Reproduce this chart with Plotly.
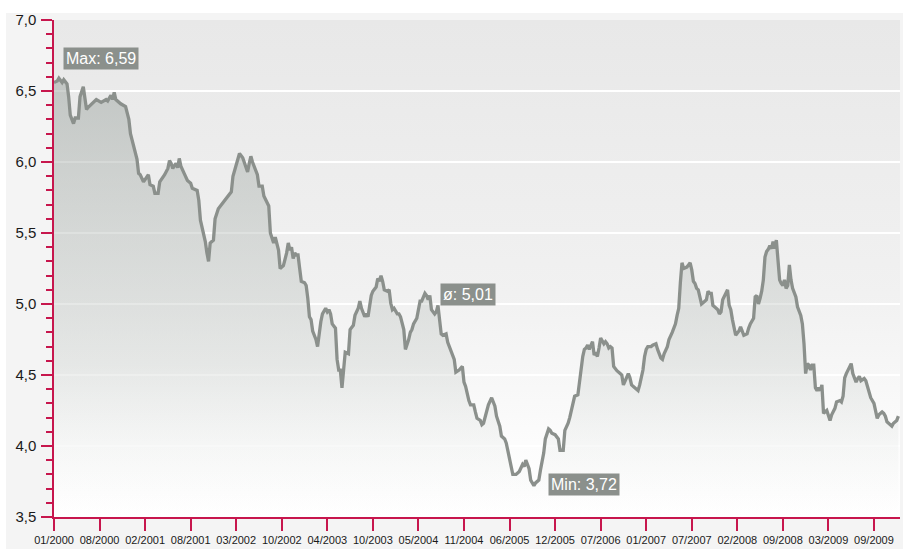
import base64
import plotly.graph_objects as go

# ---------------- data ----------------
tick_labels = ["01/2000", "08/2000", "02/2001", "08/2001", "03/2002", "10/2002",
               "04/2003", "10/2003", "05/2004", "11/2004", "06/2005", "12/2005",
               "07/2006", "01/2007", "07/2007", "02/2008", "09/2008", "03/2009",
               "09/2009"]
tick_step = 28  # observations between labelled ticks

week = [
    0, 2, 3, 5, 6, 8, 9, 10, 12, 13,
    15, 16, 18, 19, 20, 21, 23, 26, 29, 32,
    33, 35, 36, 37, 38, 41, 44, 46, 47, 50,
    51, 52, 53, 55, 57, 58, 59, 61, 62, 64,
    65, 68, 70, 71, 72, 73, 75, 76, 77, 78,
    80, 82, 84, 85, 88, 89, 90, 91, 92, 93,
    94, 95, 96, 98, 99, 101, 103, 105, 108, 109,
    110, 112, 113, 114, 116, 117, 119, 120, 121, 122,
    123, 125, 126, 128, 129, 131, 132, 133, 134, 135,
    136, 137, 138, 139, 140, 141, 143, 144, 145, 146,
    147, 148, 149, 150, 151, 152, 154, 155, 156, 157,
    158, 159, 161, 162, 164, 165, 167, 168, 169, 170,
    171, 173, 174, 175, 176, 177, 178, 179, 181, 182,
    184, 185, 187, 188, 189, 191, 192, 193, 195, 196,
    198, 199, 200, 201, 202, 203, 205, 206, 207, 208,
    209, 211, 212, 213, 215, 216, 218, 219, 220, 221,
    223, 224, 225, 226, 228, 229, 230, 231, 232, 234,
    235, 236, 237, 238, 239, 241, 242, 243, 245, 246,
    247, 249, 251, 252, 253, 254, 255, 256, 258, 259,
    260, 262, 263, 264, 265, 266, 267, 269, 271, 272,
    274, 275, 277, 278, 280, 281, 282, 284, 285, 286,
    288, 289, 290, 292, 293, 295, 296, 298, 299, 301,
    302, 304, 305, 306, 308, 310, 311, 313, 314, 316,
    317, 319, 320, 322, 323, 324, 325, 326, 327, 328,
    329, 331, 332, 333, 334, 335, 336, 338, 339, 340,
    341, 342, 343, 344, 346, 348, 349, 350, 351, 352,
    353, 354, 355, 357, 359, 360, 362, 363, 364, 365,
    367, 368, 370, 371, 373, 374, 375, 377, 378, 380,
    382, 383, 384, 385, 386, 387, 389, 390, 391, 392,
    393, 394, 395, 396, 397, 398, 400, 401, 402, 403,
    404, 405, 406, 408, 409, 410, 411, 412, 414, 415,
    416, 417, 418, 419, 421, 422, 424, 426, 427, 428,
    430, 431, 432, 433, 434, 435, 436, 437, 438, 439,
    440, 441, 442, 443, 444, 445, 446, 447, 448, 449,
    450, 451, 452, 453, 454, 456, 457, 459, 460, 461,
    462, 463, 464, 465, 466, 467, 468, 469, 470, 471,
    472, 473, 474, 475, 477, 478, 480, 481, 483, 484,
    485, 486, 487, 489, 490, 491, 493, 494, 495, 496,
    498, 499, 501, 502, 504, 505, 506, 507, 509, 510,
    511, 512, 513, 515, 516, 518, 519,
]

yield_pct = [
    6.56, 6.57, 6.59, 6.56, 6.58, 6.55, 6.46, 6.33, 6.27, 6.31,
    6.31, 6.46, 6.53, 6.46, 6.37, 6.385, 6.41, 6.44, 6.42, 6.44,
    6.43, 6.47, 6.44, 6.49, 6.44, 6.41, 6.39, 6.30, 6.20, 6.08,
    6.02, 5.92, 5.91, 5.86, 5.90, 5.91, 5.84, 5.83, 5.78, 5.78,
    5.86, 5.91, 5.955, 6.01, 5.99, 5.955, 5.99, 5.96, 6.025, 5.97,
    5.92, 5.87, 5.85, 5.815, 5.80, 5.73, 5.59, 5.54, 5.47, 5.44,
    5.36, 5.30, 5.43, 5.45, 5.60, 5.67, 5.70, 5.73, 5.78, 5.79,
    5.90, 5.98, 6.03, 6.06, 6.03, 5.99, 5.93, 5.99, 6.04, 6.00,
    5.97, 5.91, 5.83, 5.83, 5.76, 5.72, 5.69, 5.50, 5.47, 5.43,
    5.47, 5.43, 5.38, 5.25, 5.26, 5.27, 5.36, 5.43, 5.38, 5.40,
    5.32, 5.36, 5.345, 5.345, 5.25, 5.16, 5.15, 5.13, 5.04, 4.91,
    4.89, 4.81, 4.75, 4.70, 4.875, 4.93, 4.97, 4.945, 4.96, 4.93,
    4.86, 4.83, 4.61, 4.535, 4.535, 4.41, 4.535, 4.66, 4.65, 4.82,
    4.85, 4.92, 4.97, 5.02, 4.97, 4.91, 4.93, 4.91, 5.06, 5.09,
    5.12, 5.18, 5.16, 5.20, 5.16, 5.10, 5.09, 5.10, 5.005, 4.96,
    4.97, 4.93, 4.93, 4.91, 4.82, 4.68, 4.75, 4.80, 4.82, 4.86,
    4.90, 4.96, 5.02, 5.02, 5.075, 5.06, 5.03, 5.06, 4.96, 4.93,
    4.945, 4.99, 4.91, 4.79, 4.78, 4.79, 4.73, 4.70, 4.65, 4.61,
    4.52, 4.535, 4.56, 4.45, 4.42, 4.36, 4.32, 4.29, 4.29, 4.24,
    4.195, 4.18, 4.15, 4.16, 4.21, 4.265, 4.29, 4.34, 4.28, 4.21,
    4.14, 4.07, 4.05, 4.02, 3.925, 3.855, 3.80, 3.80, 3.81, 3.82,
    3.87, 3.855, 3.90, 3.84, 3.76, 3.72, 3.74, 3.76, 3.83, 3.95,
    4.05, 4.12, 4.11, 4.09, 4.08, 4.05, 3.97, 3.97, 4.11, 4.16,
    4.20, 4.29, 4.35, 4.36, 4.46, 4.51, 4.63, 4.68, 4.69, 4.71,
    4.68, 4.735, 4.64, 4.66, 4.63, 4.69, 4.76, 4.72, 4.735, 4.72,
    4.69, 4.70, 4.69, 4.56, 4.53, 4.51, 4.50, 4.43, 4.46, 4.49,
    4.51, 4.48, 4.43, 4.41, 4.39, 4.43, 4.535, 4.63, 4.68, 4.70,
    4.70, 4.71, 4.72, 4.68, 4.62, 4.61, 4.65, 4.70, 4.75, 4.80,
    4.86, 4.92, 4.97, 5.15, 5.29, 5.25, 5.26, 5.275, 5.29, 5.24,
    5.16, 5.145, 5.11, 5.10, 5.06, 5.00, 5.02, 5.03, 5.09, 5.075,
    5.075, 4.99, 4.98, 4.96, 4.93, 4.945, 5.03, 5.05, 5.10, 4.99,
    4.96, 4.89, 4.83, 4.78, 4.81, 4.84, 4.78, 4.79, 4.83, 4.86,
    4.90, 5.05, 5.06, 5.00, 5.04, 5.09, 5.17, 5.33, 5.37, 5.385,
    5.41, 5.39, 5.44, 5.39, 5.45, 5.31, 5.17, 5.145, 5.13, 5.17,
    5.11, 5.13, 5.275, 5.17, 5.11, 5.05, 4.98, 4.92, 4.86, 4.72,
    4.51, 4.58, 4.57, 4.535, 4.57, 4.57, 4.41, 4.39, 4.41, 4.39,
    4.43, 4.23, 4.24, 4.25, 4.18, 4.22, 4.265, 4.31, 4.32, 4.31,
    4.35, 4.48, 4.51, 4.56, 4.58, 4.51, 4.45, 4.475, 4.49, 4.46,
    4.475, 4.46, 4.39, 4.34, 4.30, 4.25, 4.195, 4.22, 4.24, 4.23,
    4.21, 4.17, 4.16, 4.14, 4.16, 4.18, 4.21,
]
assert len(week) == len(yield_pct)

mean_value = 5.01  # average stated in the chart
y_min_axis, y_max_axis = 3.5, 7.0

# ---------------- styling ----------------
CRIMSON = "#c7164d"
LINE_GREY = "#8b908c"
LABEL_BG = "#8b908c"
FONT = "Liberation Sans, Arial, sans-serif"

W, H = 909, 549
ML, MR, MT, MB = 54, 9, 20, 32
PW, PH = W - ML - MR, H - MT - MB

def fmt(v):
    return f"{v:.2f}".replace(".", ",")

i_max = max(range(len(yield_pct)), key=lambda k: yield_pct[k])
i_min = min(range(len(yield_pct)), key=lambda k: yield_pct[k])

fig = go.Figure()

fig.add_trace(go.Scatter(
    x=week, y=yield_pct, mode="lines",
    line=dict(color=LINE_GREY, width=3.3),
    fill="tozeroy",
    fillgradient=dict(
        type="vertical", start=y_min_axis, stop=max(yield_pct),
        colorscale=[[0, "rgba(215,220,217,0)"],
                    [0.35, "rgba(190,196,192,0.30)"],
                    [1, "rgba(165,172,168,0.58)"]],
    ),
    hoverinfo="skip", showlegend=False,
))

# gradient plot background as inline SVG image
svg = ('<svg xmlns="http://www.w3.org/2000/svg" width="100" height="100" '
       'viewBox="0 0 100 100" preserveAspectRatio="none"><defs>'
       '<linearGradient id="g" x1="0" y1="0" x2="0" y2="1">'
       '<stop offset="0" stop-color="#e8e8e8"/>'
       '<stop offset="0.55" stop-color="#f1f1f1"/>'
       '<stop offset="0.85" stop-color="#fcfcfc"/>'
       '<stop offset="1" stop-color="#ffffff"/>'
       '</linearGradient></defs>'
       '<rect width="100" height="100" fill="url(#g)"/></svg>')
uri = "data:image/svg+xml;base64," + base64.b64encode(svg.encode()).decode()

def px_x(p):
    return (p - ML) / PW

def px_y(p):
    return (H - MB - p) / PH

shapes = [
    # white page margins around the light grey panel
    dict(type="rect", xref="paper", yref="paper", x0=-0.2, x1=1.2,
         y0=px_y(13), y1=px_y(-5), fillcolor="white", line_width=0, layer="below"),
    dict(type="rect", xref="paper", yref="paper", x0=px_x(-5), x1=px_x(6),
         y0=px_y(560), y1=px_y(-5), fillcolor="white", line_width=0, layer="below"),
    dict(type="rect", xref="paper", yref="paper", x0=px_x(903), x1=px_x(915),
         y0=px_y(560), y1=px_y(-5), fillcolor="white", line_width=0, layer="below"),
]

ann_font = dict(color="white", size=16, family=FONT)
annotations = [
    dict(x=week[i_max], y=yield_pct[i_max], xref="x", yref="y",
         text=f"Max: {fmt(yield_pct[i_max])}", showarrow=False,
         xanchor="left", yanchor="bottom", xshift=4, yshift=8,
         bgcolor=LABEL_BG, borderpad=2, font=ann_font),
    dict(x=(week[0] + week[-1]) / 2, y=mean_value, xref="x", yref="y",
         text=f"ø: {fmt(mean_value)}", showarrow=False,
         xanchor="center", yanchor="bottom", xshift=-8, yshift=-3,
         bgcolor=LABEL_BG, borderpad=2, font=ann_font),
    dict(x=week[i_min], y=yield_pct[i_min], xref="x", yref="y",
         text=f"Min: {fmt(yield_pct[i_min])}", showarrow=False,
         xanchor="left", yanchor="middle", xshift=14, yshift=1,
         bgcolor=LABEL_BG, borderpad=2, font=ann_font),
]

fig.update_layout(
    width=W, height=H,
    margin=dict(l=ML, r=MR, t=MT, b=MB, pad=0, autoexpand=False),
    paper_bgcolor="#f4f4f4",
    plot_bgcolor="rgba(0,0,0,0)",
    separators=", ",
    font=dict(family=FONT, color="#1a1a1a"),
    images=[dict(source=uri, xref="paper", yref="paper", x=0, y=1, sizex=1, sizey=1,
                 sizing="stretch", layer="below", xanchor="left", yanchor="top")],
    shapes=shapes,
    annotations=annotations,
    showlegend=False,
)

fig.update_xaxes(
    range=[0, 520],
    tickmode="array",
    tickvals=[k * tick_step for k in range(len(tick_labels))],
    ticktext=tick_labels,
    ticks="outside", ticklen=12, tickwidth=1.5, tickcolor=CRIMSON,
    showline=True, linecolor=CRIMSON, linewidth=1.5,
    showgrid=False, zeroline=False,
    tickfont=dict(size=11, color="#1a1a1a"),
    automargin=False,
    fixedrange=True,
)
fig.update_yaxes(
    range=[y_min_axis, y_max_axis],
    dtick=0.5, tick0=3.5, tickformat=".1f",
    ticks="outside", ticklen=11, tickwidth=1.5, tickcolor=CRIMSON,
    showline=True, linecolor=CRIMSON, linewidth=1.5,
    showgrid=True, gridcolor="white", gridwidth=1.5,
    zeroline=False,
    minor=dict(dtick=0.1, ticks="outside", ticklen=6, tickwidth=1.5,
               tickcolor=CRIMSON, showgrid=False),
    tickfont=dict(size=15, color="#1a1a1a"),
    ticklabelstandoff=2,
    automargin=False,
    fixedrange=True,
)

fig.write_html("out.html")
